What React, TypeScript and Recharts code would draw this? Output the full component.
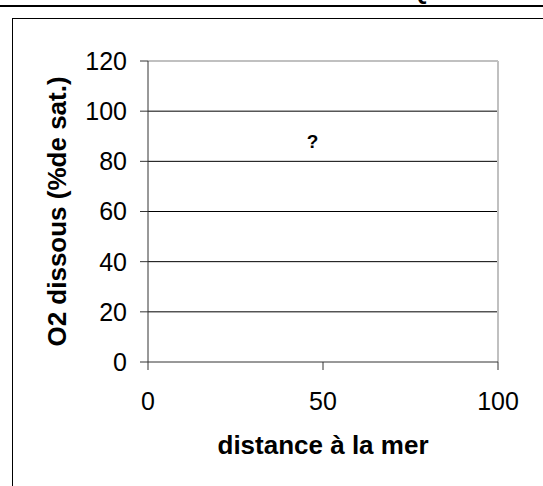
import { ScatterChart, Scatter, XAxis, YAxis, CartesianGrid, ReferenceLine, ReferenceDot, Label } from 'recharts';

// axis ticks
const xTicks = [0, 50, 100];
const yTicks = [0, 20, 40, 60, 80, 100, 120];
const gridValues = [20, 40, 60, 80, 100];

// the single unknown point of the sketch
const unknownPoint = [{ x: 47, y: 88, label: '?' }];

const xTitle = 'distance à la mer';
const yTitle = 'O2 dissous (%de sat.)';

const FONT = '"Liberation Sans", Arial, sans-serif';

const App = () => {
  return (
    <div
      style={{
        position: 'absolute',
        left: 0,
        top: 0,
        width: 543,
        height: 486,
        overflow: 'hidden',
        background: '#fff',
        fontFamily: FONT,
      }}
    >
      {/* page decorations around the chart */}
      <div style={{ position: 'absolute', left: 0, top: 5, width: 543, height: 2, background: '#000' }} />
      <div
        style={{
          position: 'absolute',
          left: 410,
          top: -21,
          fontSize: 24,
          lineHeight: '24px',
          fontWeight: 'bold',
        }}
      >
        Q
      </div>
      <div
        style={{
          position: 'absolute',
          left: 12,
          top: 18,
          width: 600,
          height: 600,
          borderTop: '1px solid #000',
          borderLeft: '1px solid #000',
        }}
      />

      <div style={{ position: 'absolute', left: 0, top: 0 }}>
        <ScatterChart width={543} height={486} margin={{ top: 61, right: 45, bottom: 0, left: 0 }}>
          <CartesianGrid vertical={false} horizontalValues={gridValues} stroke="#000" strokeWidth={1} />
          <XAxis
            type="number"
            dataKey="x"
            domain={[0, 100]}
            ticks={xTicks}
            height={124}
            stroke="#333"
            tickSize={8}
            tickMargin={22}
            tick={{ fill: '#000', fontSize: 25, fontFamily: FONT }}
          >
            <Label
              content={(props: any) => {
                const vb = props.viewBox;
                const cx = vb.x + vb.width / 2;
                const cy = vb.y + 83;
                return (
                  <text
                    x={cx}
                    y={cy}
                    textAnchor="middle"
                    dominantBaseline="central"
                    fontSize={26}
                    fontWeight="bold"
                    fontFamily={FONT}
                    fill="#000"
                  >
                    {xTitle}
                  </text>
                );
              }}
            />
          </XAxis>
          <YAxis
            type="number"
            dataKey="y"
            domain={[0, 120]}
            ticks={yTicks}
            width={148}
            stroke="#333"
            tickSize={8}
            tickMargin={13}
            tick={{ fill: '#000', fontSize: 25, fontFamily: FONT }}
          >
            <Label
              content={(props: any) => {
                const vb = props.viewBox;
                const cx = vb.x + 57;
                const cy = vb.y + vb.height / 2;
                return (
                  <text
                    x={cx}
                    y={cy}
                    transform={`rotate(-90, ${cx}, ${cy})`}
                    textAnchor="middle"
                    dominantBaseline="central"
                    fontSize={26}
                    fontWeight="bold"
                    fontFamily={FONT}
                    fill="#000"
                  >
                    {yTitle}
                  </text>
                );
              }}
            />
          </YAxis>
          {/* plot area border (top and right) */}
          <ReferenceLine y={120} stroke="#c0c0c0" strokeWidth={2} />
          <ReferenceLine x={100} stroke="#c0c0c0" strokeWidth={2} />
          <Scatter data={unknownPoint} fill="none" isAnimationActive={false} />
          {unknownPoint.map((p) => (
            <ReferenceDot
              key={p.label}
              x={p.x}
              y={p.y}
              r={0}
              fill="none"
              stroke="none"
              label={{ value: p.label, position: 'center', fontSize: 19, fontWeight: 'bold', fill: '#000', fontFamily: FONT }}
            />
          ))}
        </ScatterChart>
      </div>
    </div>
  );
};

export default App;
